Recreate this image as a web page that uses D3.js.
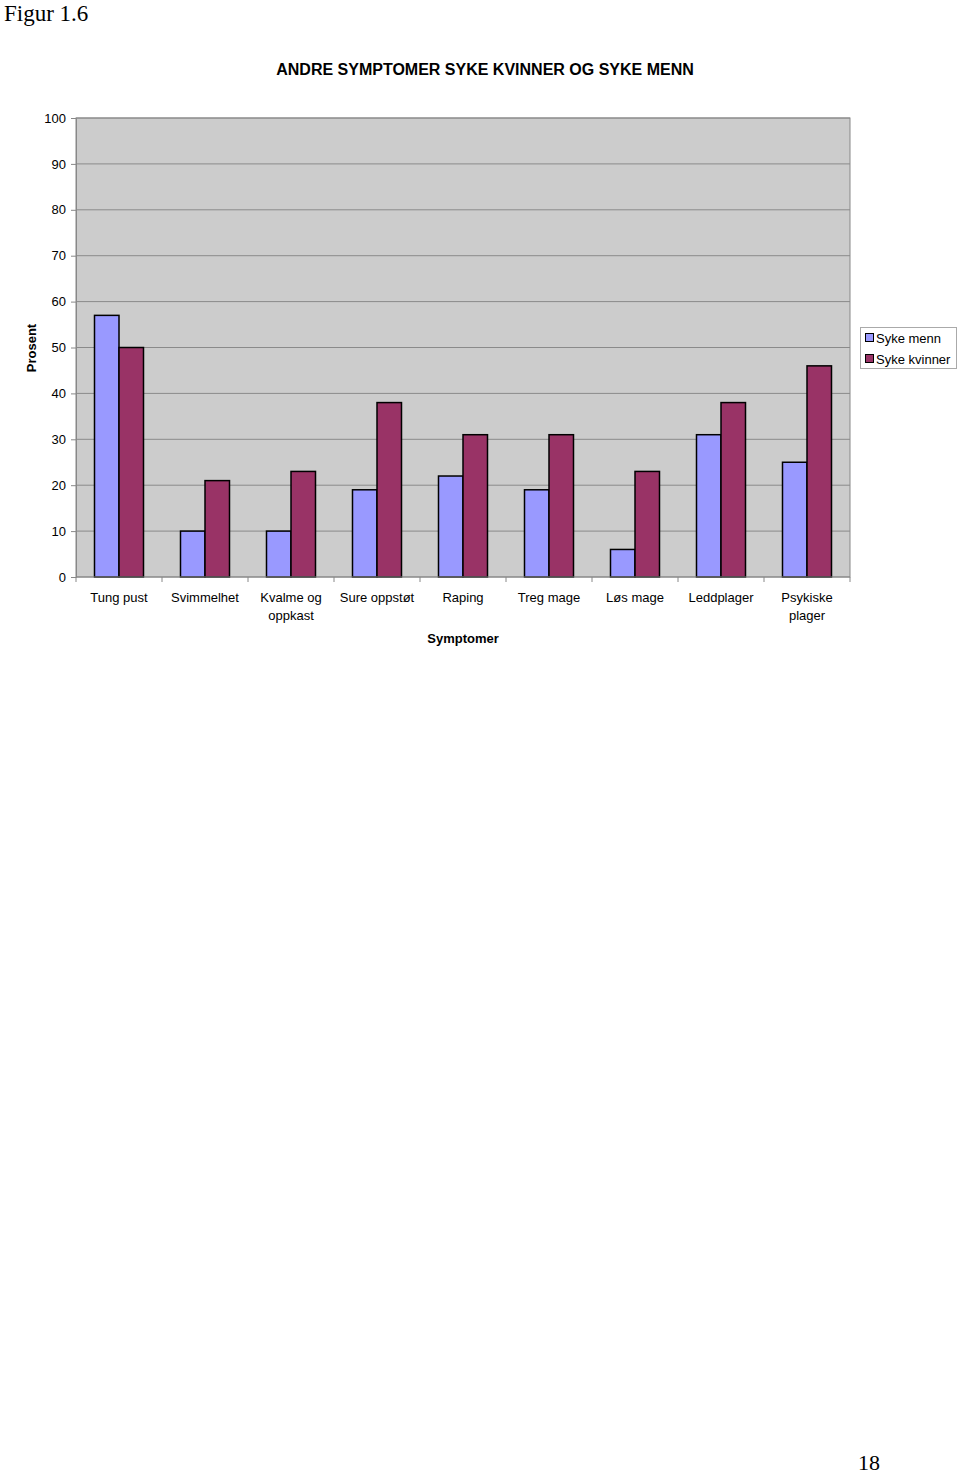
<!DOCTYPE html>
<html><head><meta charset="utf-8">
<script src="https://cdn.jsdelivr.net/npm/d3@7"></script>
<style>body{margin:0;background:#fff}svg{display:block}</style>
</head><body>
<script>
const categories = [["Tung pust"],["Svimmelhet"],["Kvalme og","oppkast"],["Sure oppstøt"],["Raping"],["Treg mage"],["Løs mage"],["Leddplager"],["Psykiske","plager"]];
const seriesNames = ["Syke menn","Syke kvinner"];
const menValues = [57,10,10,19,22,19,6,31,25];
const womenValues = [50,21,23,38,31,31,23,38,46];
const yTicks = [0,10,20,30,40,50,60,70,80,90,100];
const colors = ["#9999FF","#993366"];

const W=960,H=1475;
const svg=d3.select("body").append("svg").attr("width",W).attr("height",H);
const L=76,R=850,T=118,B=577;
const x=d3.scaleBand().domain(d3.range(categories.length)).range([L,R]).paddingInner(0).paddingOuter(0);
const y=d3.scaleLinear().domain([0,100]).range([B,T]);
const inner=d3.scaleBand().domain([0,1]).range([0,x.bandwidth()]).paddingInner(0).paddingOuter(0.755);

svg.append("text").attr("x",4).attr("y",21).attr("font-family","Liberation Serif, Times New Roman, serif").attr("font-size",23).text("Figur 1.6");
svg.append("text").attr("x",858).attr("y",1470).attr("font-family","Liberation Serif, Times New Roman, serif").attr("font-size",22).text("18");

svg.append("text").attr("x",485).attr("y",75).attr("text-anchor","middle").attr("font-family","Liberation Sans, Arial, sans-serif").attr("font-weight","bold").attr("font-size",16).text("ANDRE SYMPTOMER SYKE KVINNER OG SYKE MENN");

svg.append("rect").attr("x",L).attr("y",T).attr("width",R-L).attr("height",B-T).attr("fill","#CCCCCC").attr("stroke","#888").attr("stroke-width",1);

// gridlines
svg.append("g").selectAll("line").data(yTicks.filter(d=>d>0)).join("line")
  .attr("x1",L).attr("x2",R).attr("y1",d=>y(d)).attr("y2",d=>y(d)).attr("stroke","#8a8a8a").attr("stroke-width",1);

// y axis
const ya=svg.append("g").attr("transform",`translate(${L},0)`).call(d3.axisLeft(y).tickValues(yTicks).tickSize(5).tickPadding(5));
ya.selectAll("path,line").attr("stroke","#888");
ya.selectAll("text").attr("font-family","Liberation Sans, Arial, sans-serif").attr("font-size",13).attr("fill","#000");

// bars
const groups=svg.append("g").selectAll("g").data(categories).join("g").attr("transform",(d,i)=>`translate(${x(i)},0)`);
groups.each(function(d,i){
  const vals=[menValues[i],womenValues[i]];
  d3.select(this).selectAll("rect").data(vals).join("rect")
    .attr("x",(v,j)=>inner(j)).attr("width",inner.bandwidth())
    .attr("y",v=>y(v)).attr("height",v=>B-y(v))
    .attr("fill",(v,j)=>colors[j]).attr("stroke","#000").attr("stroke-width",1.5);
});

// x axis
svg.append("line").attr("x1",L).attr("x2",R).attr("y1",B).attr("y2",B).attr("stroke","#888");
svg.append("g").selectAll("line").data(d3.range(categories.length+1)).join("line")
  .attr("x1",i=>L+i*x.bandwidth()).attr("x2",i=>L+i*x.bandwidth()).attr("y1",B).attr("y2",B+5).attr("stroke","#888");
const xl=svg.append("g").selectAll("text").data(categories).join("text")
  .attr("x",(d,i)=>x(i)+x.bandwidth()/2).attr("y",602).attr("text-anchor","middle")
  .attr("font-family","Liberation Sans, Arial, sans-serif").attr("font-size",13);
xl.each(function(d){
  d3.select(this).selectAll("tspan").data(d).join("tspan").attr("x",d3.select(this).attr("x")).attr("dy",(t,k)=>k?18:0).text(t=>t);
});

svg.append("text").attr("x",463).attr("y",643).attr("text-anchor","middle").attr("font-family","Liberation Sans, Arial, sans-serif").attr("font-weight","bold").attr("font-size",13).text("Symptomer");
svg.append("text").attr("transform","translate(36,348) rotate(-90)").attr("text-anchor","middle").attr("font-family","Liberation Sans, Arial, sans-serif").attr("font-weight","bold").attr("font-size",13).text("Prosent");

// legend
const lg=svg.append("g");
lg.append("rect").attr("x",860.5).attr("y",327.5).attr("width",96).attr("height",41).attr("fill","#fff").attr("stroke","#aaa");
seriesNames.forEach((n,i)=>{
  lg.append("rect").attr("x",865.5).attr("y",333.5+i*21).attr("width",8).attr("height",8).attr("fill",colors[i]).attr("stroke","#000");
  lg.append("text").attr("x",876).attr("y",343+i*21).attr("font-family","Liberation Sans, Arial, sans-serif").attr("font-size",13).text(n);
});
</script>
</body></html>
